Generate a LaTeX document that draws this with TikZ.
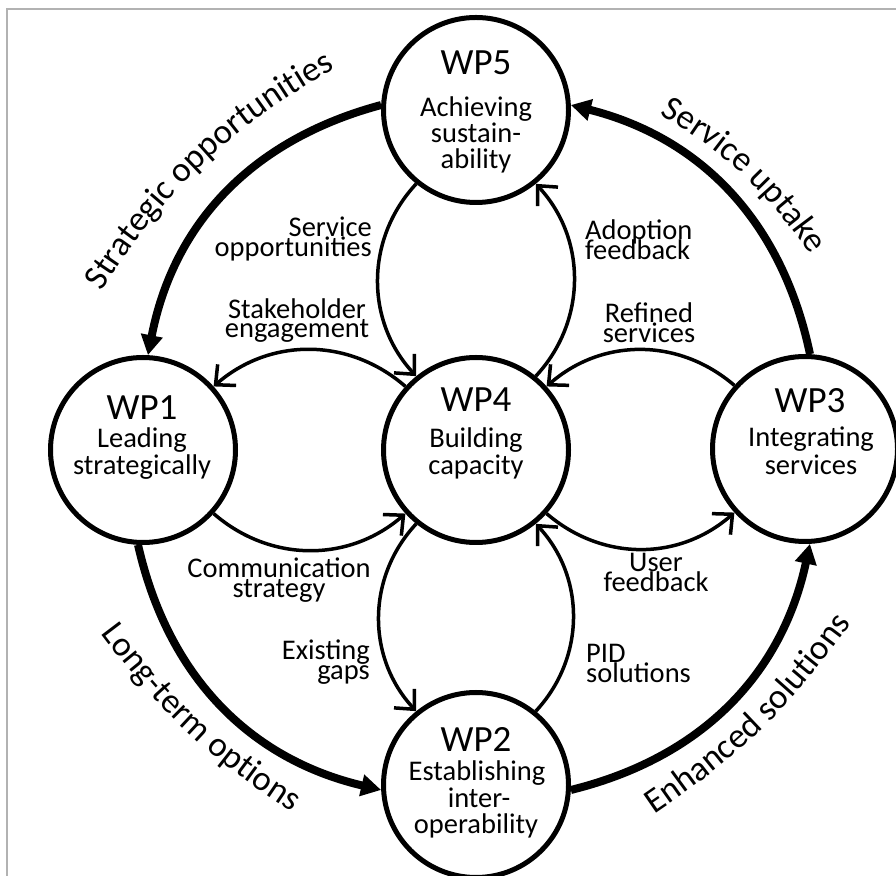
\documentclass[tikz,border=0pt]{standalone}
\usepackage{fontspec}
\setmainfont{Carlito}
\usetikzlibrary{arrows.meta,decorations.text}

\newcommand\wpTitleSize{\fontsize{37}{40}\selectfont}
\newcommand\wpBodySize{\fontsize{28.5}{27}\selectfont}
\newcommand\arcLabelSize{\fontsize{35}{40}\selectfont}

\tikzset{
  wp/.style={circle, draw, line width=5pt, minimum size=185pt, inner sep=0pt, outer sep=2.5pt},
  flow/.style={line width=3.5pt, -{Straight Barb[length=15pt,width=28pt]}},
  major/.style={line width=8pt, -{Triangle[length=20pt,width=21pt]}},
  wptitle/.style={font=\wpTitleSize, anchor=base, inner sep=0pt},
  wptext/.style={font=\wpBodySize, anchor=base, inner sep=0pt},
  lbl/.style={font=\wpBodySize, inner sep=0pt},
  arctext/.style={decorate, decoration={text along path, text align=center,
      text={|\arcLabelSize|#1}}},
}

\begin{document}
\begin{tikzpicture}[x=1pt,y=1pt]
\useasboundingbox (0,0) rectangle (896,875);
% page frame
\draw[gray!60, line width=1.5pt] (7,-20) rectangle (930,866);

% work packages
\node[wp] (wp5) at (476,765) {};
\node[wp] (wp1) at (143,425) {};
\node[wp] (wp4) at (476,425) {};
\node[wp] (wp3) at (805,426) {};
\node[wp] (wp2) at (476,90) {};

\node[wptitle] (t5) at (476,800) {WP5};
\node[wptext] (t5a) at (476,758) {Achieving};
\node[wptext] (t5b) at (476,732) {sustain-};
\node[wptext] (t5c) at (476,706) {ability};

\node[wptitle] (t1) at (142,455) {WP1};
\node[wptext] (t1a) at (142,427) {Leading};
\node[wptext] (t1b) at (142,400) {strategically};

\node[wptitle] (t4) at (476,463) {WP4};
\node[wptext] (t4a) at (476,427) {Building};
\node[wptext] (t4b) at (476,400) {capacity};

\node[wptitle] (t3) at (810,462) {WP3};
\node[wptext] (t3a) at (811,428) {Integrating};
\node[wptext] (t3b) at (811,400) {services};

\node[wptitle] (t2) at (476,123) {WP2};
\node[wptext] (t2a) at (477,95) {Establishing};
\node[wptext] (t2b) at (479,68) {inter-};
\node[wptext] (t2c) at (476,42) {operability};

% inner exchanges around WP4
\draw[flow] (wp5.231) to[bend right=43] (wp4.129);
\draw[flow] (wp4.51)  to[bend right=43] (wp5.309);
\draw[flow] (wp4.138) to[bend right=41] (wp1.42);
\draw[flow] (wp3.138) to[bend right=41] (wp4.42);
\draw[flow] (wp1.318) to[bend right=41] (wp4.222);
\draw[flow] (wp4.318) to[bend right=41] (wp3.222);
\draw[flow] (wp4.231) to[bend right=43] (wp2.129);
\draw[flow] (wp2.51)  to[bend right=43] (wp4.309);

\node[lbl, anchor=base east] (so1) at (372,638) {Service};
\node[lbl, anchor=base east] (so2) at (372,618) {opportunities};
\node[lbl, anchor=base] (se1) at (297,556) {Stakeholder};
\node[lbl, anchor=base] (se2) at (297,537) {engagement};
\node[lbl, anchor=base west] (af1) at (585,635) {Adoption};
\node[lbl, anchor=base west] (af2) at (585,615) {feedback};
\node[lbl, anchor=base] (rs1) at (649,552) {Refined};
\node[lbl, anchor=base] (rs2) at (649,532) {services};
\node[lbl, anchor=base] (cs1) at (279,297) {Communication};
\node[lbl, anchor=base] (cs2) at (279,277) {strategy};
\node[lbl, anchor=base] (uf1) at (656,303) {User};
\node[lbl, anchor=base] (uf2) at (656,283) {feedback};
\node[lbl, anchor=base east] (eg1) at (370,215) {Existing};
\node[lbl, anchor=base east] (eg2) at (370,195) {gaps};
\node[lbl, anchor=base west] (ps1) at (586,212) {PID};
\node[lbl, anchor=base west] (ps2) at (586,192) {solutions};

% outer cycle
\draw[major] (wp5.177) to[bend right=32] (wp1.87);
\draw[major] (wp1.267) to[bend right=32] (wp2.183);
\draw[major] (wp2.357) to[bend right=32] (wp3.273);
\draw[major] (wp3.87)  to[bend right=32] (wp5.3);

% baselines of the outer labels
\coordinate (so-a) at (97,577);
\coordinate (so-b) at (342,810);
\coordinate (su-a) at (658,762);
\coordinate (su-b) at (812,618);
\coordinate (lt-a) at (100,243);
\coordinate (lt-b) at (293,62);
\coordinate (es-a) at (653,60);
\coordinate (es-b) at (852,253);

\path[arctext={Strategic opportunities}] (so-a) to[bend left=14] (so-b);
\path[arctext={Service uptake}] (su-a) to[bend left=12] (su-b);
\path[arctext={Long-term options}] (lt-a) to[bend right=10] (lt-b);
\path[arctext={Enhanced solutions}] (es-a) to[bend right=10] (es-b);
\end{tikzpicture}
\end{document}
